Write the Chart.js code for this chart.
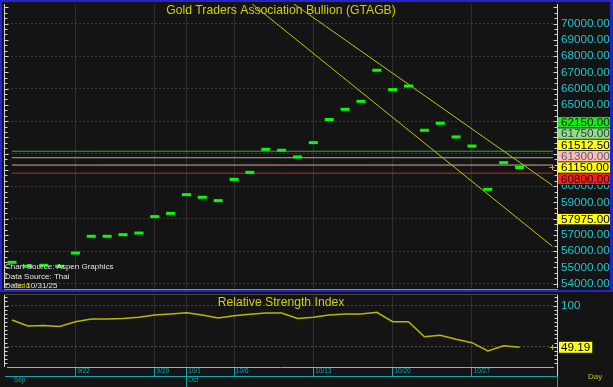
<!DOCTYPE html>
<html>
<head>
<meta charset="utf-8">
<script src="https://cdn.jsdelivr.net/npm/chart.js@4.4.0/dist/chart.umd.min.js"></script>
<style>
  html, body { margin: 0; padding: 0; background: #141414; }
  #wrap { position: relative; width: 613px; height: 387px; overflow: hidden; background: #141414; }
  canvas { position: absolute; left: 0; }
  #main { top: 0; }
  #rsi { top: 292px; }
  .blue { position: absolute; background: #2424c8; }
</style>
</head>
<body>
<div id="wrap">
  <canvas id="main" width="613" height="290"></canvas>
  <canvas id="rsi" width="613" height="95"></canvas>
  <div class="blue" style="left:0;top:0;width:613px;height:2px"></div>
  <div class="blue" style="left:0;top:0;width:2px;height:292px"></div>
  <div class="blue" style="left:610px;top:0;width:3px;height:292px"></div>
  <div class="blue" style="left:0;top:290px;width:613px;height:2px"></div>
</div>
<script>
// daily closes, 9/16 - 10/30
const dates = ['9/16', '9/17', '9/18', '9/19', '9/22', '9/23', '9/24', '9/25', '9/26', '9/29', '9/30',
  '10/1', '10/2', '10/3', '10/6', '10/7', '10/8', '10/9', '10/10', '10/13', '10/14', '10/15', '10/16',
  '10/17', '10/20', '10/21', '10/22', '10/23', '10/24', '10/27', '10/28', '10/29', '10/30'];
const prices = [55320, 55075, 55135, 55075, 55890, 56920, 56920, 57020, 57120, 58130, 58330,
  59480, 59320, 59110, 60420, 60850, 62270, 62210, 61800, 62680, 64100, 64730, 65220,
  67130, 65940, 66160, 63440, 63870, 63030, 62470, 59810, 61450, 61150];
const rsiValues = [82.4, 75.1, 75.7, 74.5, 80.3, 83.6, 83.6, 84.2, 85.7, 88.5, 89.7,
  91.2, 88.5, 84.8, 87.6, 89.3, 90.9, 90.9, 84.2, 85.7, 88.5, 89.7, 89.7,
  91.7, 80.3, 80.3, 62.1, 63.8, 58.9, 54.8, 44.7, 51.1, 49.19];
const monthNames = ['Jan', 'Feb', 'Mar', 'Apr', 'May', 'Jun', 'Jul', 'Aug', 'Sep', 'Oct', 'Nov', 'Dec'];
const priceTicks = [54000, 55000, 56000, 57000, 58000, 59000, 60000, 61000, 62000,
  63000, 64000, 65000, 66000, 67000, 68000, 69000, 70000];
const rsiTicks = [50, 100];
const levelValues = [62150, 61750, 61300, 60800];
const markerValues = [62150, 61750, 61512.5, 61300, 60800, 57975];
// trend lines as [index, price] end points
const trendUpper = [[17.74, 71230], [34.07, 60055]];
const trendLower = [[15.11, 71230], [34.07, 56304]];

const mainTitle = 'Gold Traders Association Bullion (GTAGB)';
const rsiTitle = 'Relative Strength Index';
const notes = ['Chart Source: Aspen Graphics', 'Data Source: Thai', 'Date: 10/31/25'];

const FONT = "'Liberation Sans', Arial, sans-serif";
const CYAN = '#1cc6cc';
const TEAL = '#14a4ac';
const YELLOW = '#d0d000';
const GRID = '#2e2e2e';
const AXIS_PX = 11.7;
const levelColors = ['#26b026', '#8cbf8c', '#dca4a4', '#c82828'];
const markerBg = ['#1ee61e', '#8ce08c', '#ffff10', '#ffb9b9', '#ee2222', '#ffff10'];
const markerFg = ['#062806', '#3a3a3a', '#000000', '#606060', '#3a0000', '#000000'];
const lastBg = '#ffff10';

const xMin = -0.315, xMax = 34.11;

// week starts and month starts from the dates
const weekStarts = [];
const monthStarts = [0];
for (let i = 1; i < dates.length; i++) {
  const [m0, d0] = dates[i - 1].split('/').map(Number);
  const [m1, d1] = dates[i].split('/').map(Number);
  if (m1 !== m0) monthStarts.push(i);
  if (m1 !== m0 || d1 - d0 > 1) weekStarts.push(i);
}

Chart.defaults.font.family = FONT;
Chart.defaults.animation = false;

// fixed axis size, no extra room for edge labels
function fixSize(prop, size) {
  return s => {
    s[prop] = size;
    s.paddingTop = 0; s.paddingBottom = 0; s.paddingLeft = 0; s.paddingRight = 0;
  };
}

function drawRuler(ctx, scale, x, dir, step, major) {
  ctx.save();
  ctx.strokeStyle = '#d4d4d4';
  ctx.lineWidth = 1;
  ctx.beginPath();
  ctx.moveTo(x + 0.5, scale.top);
  ctx.lineTo(x + 0.5, scale.bottom);
  const k0 = Math.ceil(scale.min / step);
  for (let k = k0; k * step <= scale.max; k++) {
    const v = k * step;
    const y = Math.round(scale.getPixelForValue(v)) + 0.5;
    const len = Math.abs(v / major - Math.round(v / major)) < 1e-6 ? 4 : 3;
    ctx.moveTo(x + 0.5, y);
    ctx.lineTo(x + 0.5 + dir * len, y);
  }
  ctx.stroke();
  ctx.restore();
}

function drawPlus(ctx, x, y) {
  ctx.save();
  ctx.strokeStyle = '#c0c000';
  ctx.lineWidth = 1;
  ctx.beginPath();
  ctx.moveTo(x - 2.5, Math.round(y) + 0.5); ctx.lineTo(x + 2.5, Math.round(y) + 0.5);
  ctx.moveTo(Math.round(x) + 0.5, y - 2.5); ctx.lineTo(Math.round(x) + 0.5, y + 2.5);
  ctx.stroke();
  ctx.restore();
}

const mainDecor = {
  id: 'mainDecor',
  beforeDatasetsDraw(chart) {
    const { ctx, chartArea: a } = chart;
    ctx.save();
    ctx.font = '12.2px ' + FONT;
    ctx.fillStyle = YELLOW;
    ctx.textAlign = 'center';
    ctx.textBaseline = 'middle';
    ctx.fillText(mainTitle, (a.left + a.right) / 2 + 1, 10.5);
    ctx.restore();
  },
  afterDatasetsDraw(chart) {
    const { ctx } = chart;
    ctx.save();
    ctx.font = '8px ' + FONT;
    ctx.fillStyle = '#e4e4e4';
    ctx.textBaseline = 'middle';
    notes.forEach((t, i) => ctx.fillText(t, 5, 267 + i * 9.4));
    ctx.fillStyle = '#b8b800';
    ctx.fillText('Gold', 13, 267 + 2 * 9.4);
    ctx.restore();
  },
  afterDraw(chart) {
    const { ctx, chartArea: a } = chart;
    const ys = chart.scales.y;
    drawRuler(ctx, ys, a.left - 3, 1, 1000 / 3, 1000);
    drawRuler(ctx, ys, a.right + 4, -1, 1000 / 3, 1000);

    // bottom border of the plot
    ctx.save();
    ctx.strokeStyle = '#8c8c8c';
    ctx.beginPath();
    ctx.moveTo(a.left - 3, 289.5); ctx.lineTo(a.right + 5, 289.5);
    ctx.stroke();
    ctx.restore();

    // right-axis price markers, stacked around the last price
    const last = prices[prices.length - 1];
    const items = markerValues.map((v, i) => ({ v, bg: markerBg[i], fg: markerFg[i] }));
    items.push({ v: last, bg: lastBg, fg: '#000000' });
    items.sort((p, q) => q.v - p.v);
    items.forEach(o => { o.ty = ys.getPixelForValue(o.v); o.y = o.ty; });
    const gap = 11.3;
    const ai = items.findIndex(o => o.v === last);
    for (let k = ai - 1; k >= 0; k--) items[k].y = Math.min(items[k].ty, items[k + 1].y - gap);
    for (let k = ai + 1; k < items.length; k++) items[k].y = Math.max(items[k].ty, items[k - 1].y + gap);

    const bx = a.right + 5, bw = 610 - bx;
    ctx.save();
    ctx.fillStyle = '#141414';
    items.forEach(o => ctx.fillRect(bx, o.y - gap / 2 - 0.5, bw, gap + 1));
    ctx.font = AXIS_PX + 'px ' + FONT;
    ctx.textBaseline = 'middle';
    items.forEach(o => {
      ctx.fillStyle = o.bg;
      ctx.fillRect(bx, o.y - 5.2, bw, 10.4);
      ctx.fillStyle = o.fg;
      ctx.fillText(o.v.toFixed(2), a.right + 8, o.y + 0.5);
    });
    ctx.restore();

    drawPlus(ctx, a.right - 1, ys.getPixelForValue(last));
  }
};

new Chart(document.getElementById('main'), {
  type: 'line',
  data: {
    datasets: [
      {
        data: prices.map((v, i) => ({ x: i, y: v })),
        showLine: false,
        pointStyle: 'line',
        pointRadius: 4.5,
        pointBorderWidth: 3,
        pointBorderColor: '#00ff00',
        pointBackgroundColor: '#00ff00',
        order: 0
      },
      {
        data: trendUpper.map(([x, y]) => ({ x, y })),
        borderColor: '#c4c400', borderWidth: 1, pointRadius: 0, order: 1
      },
      {
        data: trendLower.map(([x, y]) => ({ x, y })),
        borderColor: '#c4c400', borderWidth: 1, pointRadius: 0, order: 1
      },
      ...levelValues.map((v, k) => ({
        data: [{ x: 0, y: v }, { x: xMax, y: v }],
        borderColor: levelColors[k], borderWidth: 1, pointRadius: 0, order: 2
      }))
    ]
  },
  options: {
    responsive: false,
    animation: false,
    events: [],
    layout: { autoPadding: false, padding: { left: 7, top: 4, right: 0, bottom: 2 } },
    plugins: { legend: { display: false }, tooltip: { enabled: false } },
    scales: {
      x: {
        type: 'linear', min: xMin, max: xMax,
        afterBuildTicks: s => { s.ticks = weekStarts.map(v => ({ value: v })); },
        afterFit: fixSize('height', 0),
        ticks: { display: false },
        grid: { color: GRID, drawTicks: false },
        border: { display: false }
      },
      y: {
        position: 'right', min: 53739, max: 71205,
        afterBuildTicks: s => { s.ticks = priceTicks.map(v => ({ value: v })); },
        afterFit: fixSize('width', 60),
        ticks: {
          color: CYAN, font: { size: AXIS_PX }, padding: 8, autoSkip: false,
          callback: v => v.toFixed(2)
        },
        grid: {
          color: c => (c.tick && c.tick.value % 2000 === 0) ? '#383838' : 'rgba(0,0,0,0)',
          drawTicks: false
        },
        border: { display: false, dash: [2, 2] }
      }
    }
  },
  plugins: [mainDecor]
});

const rsiDecor = {
  id: 'rsiDecor',
  beforeDatasetsDraw(chart) {
    const { ctx, chartArea: a } = chart;
    ctx.save();
    ctx.font = '12.2px ' + FONT;
    ctx.fillStyle = YELLOW;
    ctx.textAlign = 'center';
    ctx.textBaseline = 'middle';
    ctx.fillText(rsiTitle, (a.left + a.right) / 2 + 1, 10.5);
    ctx.restore();
  },
  afterDraw(chart) {
    const { ctx, chartArea: a } = chart;
    const ys = chart.scales.y;
    const x2 = chart.scales.x2;
    drawRuler(ctx, ys, a.left - 3, 1, 5, 50);
    drawRuler(ctx, ys, a.right + 4, -1, 5, 50);

    ctx.save();
    ctx.lineWidth = 1;
    ctx.strokeStyle = '#4a4a4a';
    ctx.beginPath();
    ctx.moveTo(a.left - 3, a.top + 0.5); ctx.lineTo(a.right + 5, a.top + 0.5);
    ctx.stroke();
    ctx.strokeStyle = '#d4d4d4';
    ctx.beginPath();
    ctx.moveTo(a.right + 4.5, a.bottom); ctx.lineTo(a.right + 4.5, x2.top);
    ctx.stroke();
    ctx.strokeStyle = TEAL;
    ctx.beginPath();
    ctx.moveTo(a.right + 4.5, x2.top); ctx.lineTo(a.right + 4.5, x2.bottom);
    ctx.moveTo(a.left - 2, x2.top + 0.5); ctx.lineTo(a.right + 4, x2.top + 0.5);
    ctx.stroke();

    // last RSI value marker
    const last = rsiValues[rsiValues.length - 1];
    const y = ys.getPixelForValue(last);
    ctx.font = AXIS_PX + 'px ' + FONT;
    ctx.textBaseline = 'middle';
    const txt = last.toFixed(2);
    const w = ctx.measureText(txt).width;
    ctx.fillStyle = lastBg;
    ctx.fillRect(a.right + 6, y - 5.5, w + 4, 11);
    ctx.fillStyle = '#000000';
    ctx.fillText(txt, a.right + 8, y + 0.5);

    ctx.font = '8px ' + FONT;
    ctx.fillStyle = '#c0c000';
    ctx.fillText('Day', 588, 84.5);
    ctx.restore();

    drawPlus(ctx, a.right - 1, y);
  }
};

new Chart(document.getElementById('rsi'), {
  type: 'line',
  data: {
    datasets: [{
      data: rsiValues.map((v, i) => ({ x: i, y: v })),
      borderColor: '#b8b800',
      borderWidth: 1.5,
      pointRadius: 0,
      tension: 0
    }]
  },
  options: {
    responsive: false,
    animation: false,
    events: [],
    layout: { autoPadding: false, padding: { left: 7, top: 2, right: 0, bottom: 0 } },
    plugins: { legend: { display: false }, tooltip: { enabled: false } },
    scales: {
      x: {
        type: 'linear', min: xMin, max: xMax,
        afterBuildTicks: s => { s.ticks = weekStarts.map(v => ({ value: v })); },
        afterFit: fixSize('height', 9),
        ticks: {
          color: TEAL, font: { size: 6.5 }, padding: -9, align: 'start',
          autoSkip: false, maxRotation: 0, callback: v => ' ' + dates[v]
        },
        grid: { color: GRID, tickColor: TEAL, tickLength: 9 },
        border: { display: true, color: '#a8a8a8', width: 1 }
      },
      x2: {
        type: 'linear', position: 'bottom', min: xMin, max: xMax,
        afterBuildTicks: s => { s.ticks = monthStarts.map(v => ({ value: v })); },
        afterFit: fixSize('height', 11),
        ticks: {
          color: TEAL, font: { size: 6.5 }, padding: -11, align: 'start',
          autoSkip: false, maxRotation: 0,
          callback: v => ' ' + monthNames[Number(dates[v].split('/')[0]) - 1]
        },
        grid: {
          drawOnChartArea: false, tickLength: 11,
          tickColor: c => (c.tick && c.tick.value === 0) ? 'rgba(0,0,0,0)' : TEAL
        },
        border: { display: false }
      },
      y: {
        position: 'right', min: 25.25, max: 113.98,
        afterBuildTicks: s => { s.ticks = rsiTicks.map(v => ({ value: v })); },
        afterFit: fixSize('width', 60),
        ticks: {
          color: CYAN, font: { size: AXIS_PX }, padding: 8, autoSkip: false,
          callback: v => v === 100 ? '100' : ''
        },
        grid: { color: '#4a4a4a', drawTicks: false },
        border: { display: false, dash: [2, 2] }
      }
    }
  },
  plugins: [rsiDecor]
});
</script>
</body>
</html>
